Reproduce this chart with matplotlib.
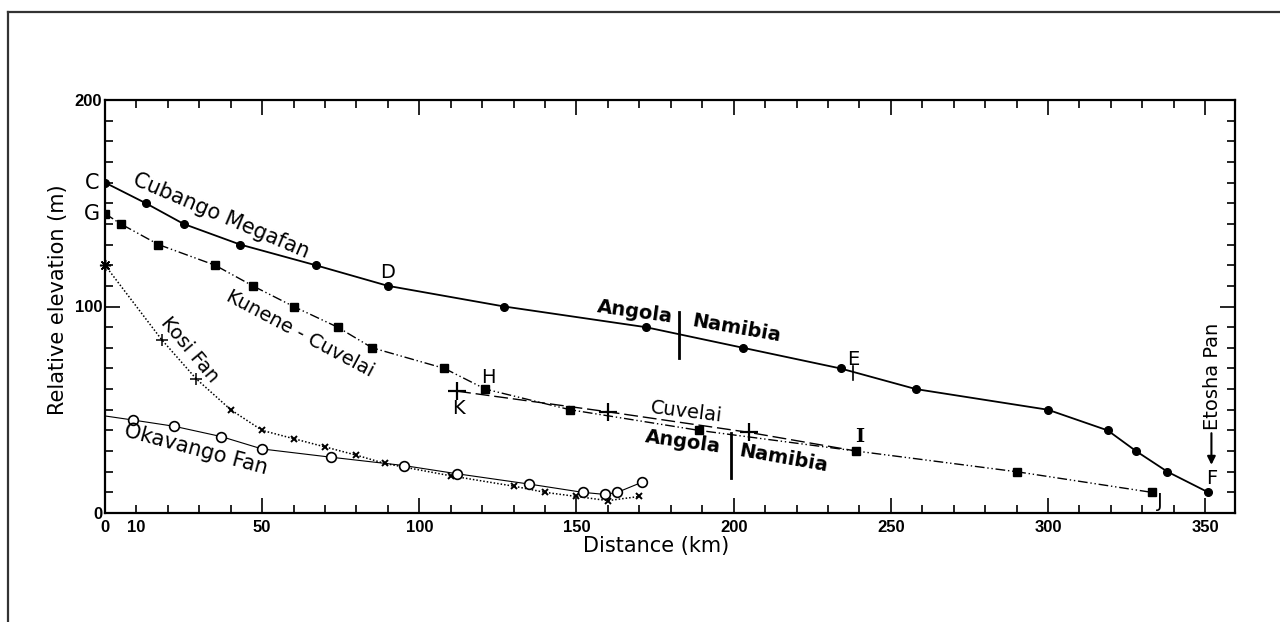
import numpy as np
import matplotlib
matplotlib.use("Agg")
import matplotlib.pyplot as plt
from matplotlib.lines import Line2D

# Cubango Megafan (C - D - E - F)
cub_x = [0, 13, 25, 43, 67, 90, 127, 172, 203, 234, 258, 300, 319, 328, 338, 351]
cub_y = [160, 150, 140, 130, 120, 110, 100, 90, 80, 70, 60, 50, 40, 30, 20, 10]

# Kunene - Cuvelai (G - H - I - J)
kun_x = [0, 5, 17, 35, 47, 60, 74, 85, 108, 121, 148, 189, 239, 290, 333]
kun_y = [145, 140, 130, 120, 110, 100, 90, 80, 70, 60, 50, 40, 30, 20, 10]

# Cuvelai (K - I)
cuv_x = [112, 160, 205, 239]
cuv_y = [59, 49, 39, 30]

# Kosi Fan
kosi_x = [0, 18, 29, 40, 50, 60, 70, 80, 89, 110, 130, 140, 150, 160, 170]
kosi_y = [120, 84, 65, 50, 40, 36, 32, 28, 24, 18, 13, 10, 8, 6, 8]

# Okavango Fan
oka_x = [0, 9, 22, 37, 50, 72, 95, 112, 135, 152, 159, 163, 171]
oka_y = [47, 45, 42, 37, 31, 27, 23, 19, 14, 10, 9, 10, 15]

x_labels = [0, 10, 50, 100, 150, 200, 250, 300, 350]
y_labels = [0, 100, 200]

fig = plt.figure(figsize=(12.8, 6.22), dpi=100)
ax = fig.add_axes([105 / 1280, 1 - 513 / 622, 1130 / 1280, 413 / 622])

lab_font = "DejaVu Sans"
tick_font = "Liberation Sans"

ax.plot(cub_x, cub_y, color="black", lw=1.3, marker="o", ms=5.5, zorder=3)
ax.plot(kun_x, kun_y, color="black", lw=1.0, ls=(0, (7, 2, 1, 2, 1, 2)),
        marker="s", ms=6, zorder=3)
ax.plot(cuv_x, cuv_y, color="black", lw=1.0, ls=(0, (10, 3.5)), zorder=2)
ax.plot(cuv_x[:-1], cuv_y[:-1], ls="none", marker="+", ms=13, mew=1.6, color="black")
ax.plot(kosi_x, kosi_y, color="black", lw=1.1, ls=(0, (1, 1.3)), zorder=2)
ax.plot(kosi_x[3:], kosi_y[3:], ls="none", marker="x", ms=5, mew=1.4, color="black")
ax.plot(kosi_x[1:3], kosi_y[1:3], ls="none", marker="+", ms=8, mew=1.1, color="black")
ax.plot(kosi_x[:1], kosi_y[:1], ls="none", marker=(8, 2, 0), ms=8, mew=1.1,
        color="black", clip_on=False)
ax.plot(oka_x, oka_y, color="black", lw=0.8, marker="o", ms=7, mfc="white",
        mew=1.2, markevery=list(range(1, len(oka_x))), zorder=3)

# border markers
ax.plot([182.7, 182.7], [75, 97.5], color="black", lw=2)
ax.plot([199, 199], [17, 38.5], color="black", lw=2)
ax.plot([238, 238], [64.5, 71], color="black", lw=1.2)

ax.set_xlim(0, 359.5)
ax.set_ylim(0, 200)

ax.set_xticks(x_labels)
ax.set_xticks(np.arange(0, 360, 10), minor=True)
ax.set_yticks(y_labels)
ax.set_yticks(np.arange(0, 201, 10), minor=True)
ax.tick_params(which="both", direction="in", top=True, right=True, width=1.2,
               color="black")
ax.tick_params(which="major", length=11, pad=5)
ax.tick_params(which="minor", length=6)
ax.xaxis.get_major_ticks()[1].tick1line.set_markersize(6)
ax.xaxis.get_major_ticks()[1].tick2line.set_markersize(6)
for lab in ax.get_xticklabels() + ax.get_yticklabels():
    lab.set_fontfamily(tick_font)
    lab.set_fontweight("bold")
    lab.set_fontsize(12)
ax.tick_params(axis="y", pad=2)
for s in ax.spines.values():
    s.set_linewidth(1.6)

ax.set_xlabel("Distance (km)", fontsize=15, family=lab_font, labelpad=2)
ax.xaxis.set_label_coords(0.488, -0.055)
ax.set_ylabel("Relative elevation (m)", fontsize=15, family=lab_font, labelpad=6)
ax.yaxis.set_label_coords(-0.033, 0.516)

txt = dict(family=lab_font, color="black", ha="center", va="center",
           rotation_mode="anchor")
ax.text(-4, 160, "C", fontsize=15, clip_on=False, **txt)
ax.text(-4, 145, "G", fontsize=15, clip_on=False, **txt)
ax.text(37, 144, "Cubango Megafan", fontsize=15, rotation=-23, **txt)
ax.text(62, 87, "Kunene - Cuvelai", fontsize=14, rotation=-28, **txt)
ax.text(27, 79, "Kosi Fan", fontsize=14, rotation=-50, **txt)
ax.text(29, 31, "Okavango Fan", fontsize=15, rotation=-15, **txt)
ax.text(90, 116.5, "D", fontsize=14, **txt)
ax.text(122, 65.5, "H", fontsize=14, **txt)
ax.text(112.6, 50.5, "K", fontsize=14, **txt)
ax.text(238, 74.5, "E", fontsize=14, **txt)
ax.text(240, 37, "I", fontsize=14, family="DejaVu Serif", color="black",
        ha="center", va="center", fontweight="bold")
ax.text(335.5, 5.5, "J", fontsize=14, **txt)
ax.text(352, 16.5, "F", fontsize=14, **txt)
ax.text(185, 49, "Cuvelai", fontsize=14, rotation=-7, **txt)
ax.text(168.5, 97.5, "Angola", fontsize=14, rotation=-8, fontweight="heavy", **txt)
ax.text(201, 89.5, "Namibia", fontsize=14, rotation=-10, fontweight="heavy", **txt)
ax.text(184, 34.5, "Angola", fontsize=14, rotation=-8, fontweight="heavy", **txt)
ax.text(216, 26.5, "Namibia", fontsize=14, rotation=-10, fontweight="heavy", **txt)
ax.text(352.5, 66, "Etosha Pan", fontsize=14, rotation=90, **txt)
ax.annotate("", xy=(352, 22), xytext=(352, 40),
            arrowprops=dict(arrowstyle="-|>", color="black", lw=1.5,
                            mutation_scale=12))

# outer frame
fig.add_artist(Line2D([8 / 1280, 8 / 1280], [0, 1 - 12 / 622], color="#333333",
                      lw=1.6, transform=fig.transFigure))
fig.add_artist(Line2D([8 / 1280, 1], [1 - 12 / 622, 1 - 12 / 622], color="#333333",
                      lw=1.6, transform=fig.transFigure))

fig.savefig("out.png", dpi=100)
